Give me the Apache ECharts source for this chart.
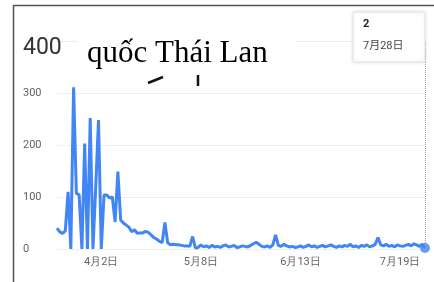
<!DOCTYPE html>
<html><head><meta charset="utf-8">
<script src="https://cdn.jsdelivr.net/npm/echarts@6/dist/echarts.min.js"></script>
<style>html,body{margin:0;padding:0;background:#fff}#c{width:434px;height:282px}</style>
</head><body><div id="c"></div>
<script>
// Daily search-interest values, 17 Mar – 28 Jul
var startDate = [3, 17];
var values = [40,33,30,35,110,0,311,107,104,0,203,0,252,0,120,248,0,104,104,98,100,52,149,56,50,46,42,33,37,30,31,31,34,32,27,22,19,15,12,51,12,8,9,8,8,7,6,6,5,24,2,3,8,4,6,3,7,4,5,3,6,8,4,5,7,3,4,6,5,4,7,10,13,9,5,4,6,3,8,27,7,5,9,6,4,5,3,4,6,3,5,8,4,6,3,5,7,4,6,8,5,3,6,4,7,5,9,4,6,3,7,5,8,4,6,9,22,8,6,9,5,7,4,8,6,5,7,9,6,10,8,5,9,2];
var xTickLabels = ['4月2日','5月8日','6月13日','7月19日'];
var yTicks = [0,100,200,300,400];
var tipValue = '2';
var tipDate = '7月28日';
var overlayText = 'quốc Thái Lan';

var monthDays = {3:31,4:30,5:31,6:30,7:31};
var dates = [];
(function(){
  var m = startDate[0], d = startDate[1];
  for (var i = 0; i < values.length; i++) {
    dates.push(m + '月' + d + '日');
    d++; if (d > monthDays[m]) { d = 1; m++; }
  }
})();
var lastIdx = values.length - 1;

var chart = echarts.init(document.getElementById('c'), null, {renderer:'canvas'});
chart.setOption({
  animation: false,
  grid: {left: 57, right: 9, top: 41, bottom: 33},
  xAxis: {
    type: 'category', data: dates, boundaryGap: false,
    axisLine: {show: false}, axisTick: {show: false},
    splitLine: {show: false},
    axisLabel: {
      margin: 8, color: '#5f6368', fontSize: 11, fontFamily: 'Roboto, Arial, sans-serif',
      interval: function(i, v){ return xTickLabels.indexOf(v) >= 0; }
    }
  },
  yAxis: {
    type: 'value', min: 0, max: 400, interval: 100,
    axisLine: {show: false}, axisTick: {show: false},
    splitLine: {lineStyle: {color: '#eeeeee', width: 1}},
    axisLabel: {
      align: 'left', margin: 34, color: '#5f6368', fontSize: 11, fontFamily: 'Roboto, Arial, sans-serif',
      formatter: function(v){ return v === 400 ? '{big|400}' : String(v); },
      rich: {big: {fontSize: 23, color: '#333', fontFamily: 'Roboto, Arial, sans-serif', padding: [14,0,0,0]}}
    }
  },
  series: [
    {
      type: 'line', data: values, showSymbol: false, symbol: 'none',
      lineStyle: {color: '#4285f4', width: 3}, itemStyle: {color: '#4285f4'},
      markLine: {
        silent: true, symbol: 'none', label: {show: false},
        lineStyle: {color: '#9e9e9e', type: 'dotted', width: 1},
        data: [{xAxis: dates[lastIdx]}]
      },
      z: 3
    },
    {
      type: 'scatter', data: [[dates[lastIdx], values[lastIdx]]],
      symbol: 'circle', symbolSize: 10, itemStyle: {color: '#4285f4'}, z: 4
    }
  ],
  graphic: [
    {type: 'rect', shape: {x: 78, y: 28, width: 217, height: 42}, style: {fill: '#fff'}, z: 10},
    {type: 'text', x: 87, y: 38, z: 11, style: {text: overlayText, fill: '#000', font: '31px "Liberation Serif", "Times New Roman", serif'}},
    {type: 'line', shape: {x1: 148, y1: 83, x2: 163, y2: 77}, style: {stroke: '#111', lineWidth: 2.5}, z: 11},
    {type: 'line', shape: {x1: 198, y1: 75, x2: 198, y2: 86}, style: {stroke: '#111', lineWidth: 2.5}, z: 11},
    {type: 'rect', shape: {x: 353, y: 12, width: 72, height: 50}, style: {fill: '#fff', stroke: '#e3e3e3', lineWidth: 1, shadowBlur: 4, shadowColor: 'rgba(0,0,0,0.12)'}, z: 10},
    {type: 'text', x: 363, y: 19, z: 11, style: {text: tipValue, fill: '#222', font: 'bold 11px Roboto, Arial, sans-serif'}},
    {type: 'text', x: 363, y: 41, z: 11, style: {text: tipDate, fill: '#444', font: '11px Roboto, "Noto Sans CJK SC", sans-serif'}},
    {type: 'line', shape: {x1: 13.5, y1: 5, x2: 13.5, y2: 282}, style: {stroke: '#555', lineWidth: 1.5}, z: 12},
    {type: 'line', shape: {x1: 13, y1: 5.5, x2: 434, y2: 5.5}, style: {stroke: '#555', lineWidth: 1.5}, z: 12}
  ]
});
</script></body></html>
